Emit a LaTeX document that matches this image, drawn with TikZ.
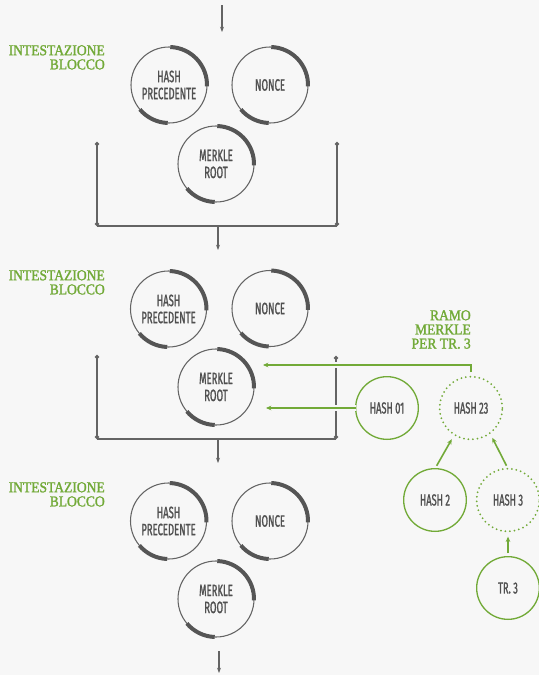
\documentclass[tikz,border=0pt]{standalone}
\usepackage{fontspec}
\usetikzlibrary{arrows.meta}

\newfontfamily\condfont[FakeStretch=0.58,FakeBold=1.2]{Fira Sans}
\newfontfamily\headfont[FakeStretch=0.9,FakeBold=1.6]{Liberation Serif}

\definecolor{bggray}{RGB}{247,247,247}
\definecolor{linegray}{RGB}{100,100,100}
\definecolor{rimgray}{RGB}{85,85,85}
\definecolor{textgray}{RGB}{80,80,80}
\definecolor{leafgreen}{RGB}{114,170,56}

\begin{document}
\begin{tikzpicture}[x=0.75pt, y=0.75pt,
    field/.style={circle, draw=linegray, line width=0.8pt, minimum size=57pt,
        inner sep=0pt, outer sep=0pt, align=center, text=textgray,
        font=\condfont\fontsize{12.3}{12.75}\selectfont},
    rim/.style={draw=rimgray, line width=3pt},
    hashbox/.style={circle, draw=leafgreen, line width=1pt, minimum size=47pt,
        inner sep=0pt, outer sep=0pt, text=textgray,
        font=\condfont\fontsize{12}{12.75}\selectfont},
    pathbox/.style={hashbox, line width=1.5pt, line cap=round,
        dash pattern=on 0pt off 3.4pt},
    heading/.style={anchor=north east, inner sep=0pt, align=right,
        text=leafgreen, font=\headfont\fontsize{11.3}{10.6}\selectfont},
    flow/.style={draw=linegray, line width=1pt, -{Stealth[length=4pt,width=3pt]}},
    bracket/.style={draw=linegray, line width=1pt},
    ends/.style={bracket, {Circle[length=3pt]}-{Circle[length=3pt]}},
    branch/.style={draw=leafgreen, line width=1.5pt, -{Stealth[length=4pt,width=3.5pt]},
        preaction={draw=bggray, line width=5pt, -}},
    tree/.style={draw=leafgreen, line width=1.2pt, -{Stealth[length=4pt,width=3.5pt]},
        shorten <=2.5pt, shorten >=4pt}]

    % Canvas
    \fill [bggray] (0,0) rectangle (539,-675);
    \useasboundingbox (0,0) rectangle (539,-675);

    % Block 1
    %% Heading
    \node (head1) at (105,-45) [heading] {INTESTAZIONE\\BLOCCO};

    %% Fields
    \node (hp1) at (169,-85) [field] {HASH\\PRECEDENTE};
    \node (nc1) at (270,-85) [field] {NONCE};
    \node (mr1) at (216,-164) [field] {MERKLE\\ROOT};

    %% Rims
    \draw [rim] (hp1.-2) arc [start angle=-2, end angle=88, radius=28.5pt];
    \draw [rim] (hp1.220) arc [start angle=220, end angle=268, radius=28.5pt];
    \draw [rim] (nc1.-2) arc [start angle=-2, end angle=88, radius=28.5pt];
    \draw [rim] (nc1.220) arc [start angle=220, end angle=268, radius=28.5pt];
    \draw [rim] (mr1.-2) arc [start angle=-2, end angle=88, radius=28.5pt];
    \draw [rim] (mr1.220) arc [start angle=220, end angle=268, radius=28.5pt];

    %% Bracket
    \coordinate (in1) at (222,-5);
    \coordinate (out1) at (222,-32);
    \coordinate (br1a) at (97,-142);
    \coordinate (br1b) at (97,-226);
    \coordinate (br1c) at (337,-226);
    \coordinate (br1d) at (337,-142);
    \coordinate (dn1a) at (218,-226);
    \coordinate (dn1b) at (218,-250);
    \draw [flow] (in1) -- (out1);
    \draw [ends] (br1a) -- (br1b);
    \draw [bracket] (br1b) -- (br1c);
    \draw [ends] (br1c) -- (br1d);
    \draw [flow] (dn1a) -- (dn1b);

    % Block 2
    %% Heading
    \node (head2) at (105,-270) [heading] {INTESTAZIONE\\BLOCCO};

    %% Fields
    \node (hp2) at (168.5,-309) [field] {HASH\\PRECEDENTE};
    \node (nc2) at (270,-308.5) [field] {NONCE};
    \node (mr2) at (216,-387) [field] {MERKLE\\ROOT};

    %% Rims
    \draw [rim] (hp2.-2) arc [start angle=-2, end angle=88, radius=28.5pt];
    \draw [rim] (hp2.220) arc [start angle=220, end angle=268, radius=28.5pt];
    \draw [rim] (nc2.-2) arc [start angle=-2, end angle=88, radius=28.5pt];
    \draw [rim] (nc2.220) arc [start angle=220, end angle=268, radius=28.5pt];
    \draw [rim] (mr2.-2) arc [start angle=-2, end angle=88, radius=28.5pt];
    \draw [rim] (mr2.220) arc [start angle=220, end angle=268, radius=28.5pt];

    %% Bracket
    \coordinate (br2a) at (97,-355);
    \coordinate (br2b) at (97,-439);
    \coordinate (br2c) at (336,-439);
    \coordinate (br2d) at (336,-356);
    \coordinate (dn2a) at (218,-439);
    \coordinate (dn2b) at (218,-463);
    \draw [ends] (br2a) -- (br2b);
    \draw [bracket] (br2b) -- (br2c);
    \draw [ends] (br2c) -- (br2d);
    \draw [flow] (dn2a) -- (dn2b);

    % Block 3
    %% Heading
    \node (head3) at (105,-482) [heading] {INTESTAZIONE\\BLOCCO};

    %% Fields
    \node (hp3) at (168.5,-521) [field] {HASH\\PRECEDENTE};
    \node (nc3) at (270,-521) [field] {NONCE};
    \node (mr3) at (216,-599) [field] {MERKLE\\ROOT};

    %% Rims
    \draw [rim] (hp3.-2) arc [start angle=-2, end angle=88, radius=28.5pt];
    \draw [rim] (hp3.220) arc [start angle=220, end angle=268, radius=28.5pt];
    \draw [rim] (nc3.-2) arc [start angle=-2, end angle=88, radius=28.5pt];
    \draw [rim] (nc3.220) arc [start angle=220, end angle=268, radius=28.5pt];
    \draw [rim] (mr3.-2) arc [start angle=-2, end angle=88, radius=28.5pt];
    \draw [rim] (mr3.220) arc [start angle=220, end angle=268, radius=28.5pt];

    %% Exit
    \coordinate (dn3a) at (219,-651);
    \coordinate (dn3b) at (219,-673);
    \draw [flow] (dn3a) -- (dn3b);

    % Merkle branch for tr. 3
    %% Heading
    \node (headbr) at (471,-310) [heading] {RAMO\\MERKLE\\PER TR. 3};

    %% Hashes
    \node (h01) at (387,-408) [hashbox] {HASH 01};
    \node (h23) at (471,-408) [pathbox] {HASH 23};
    \node (h2) at (435,-500) [hashbox] {HASH 2};
    \node (h3) at (508,-500) [pathbox] {HASH 3};
    \node (tr3) at (508,-588) [hashbox] {TR. 3};

    %% Links
    \coordinate (in23) at (263,-365);
    \coordinate (in01) at (266,-408);
    \draw [branch] ([yshift=3.5pt]h23.north) |- (in23);
    \draw [branch] (h01.west) -- (in01);
    \draw [tree] (h2.north) -- (h23.238);
    \draw [tree] (h3.north) -- (h23.307);
    \draw [tree] (tr3.north) -- (h3.south);
\end{tikzpicture}
\end{document}
